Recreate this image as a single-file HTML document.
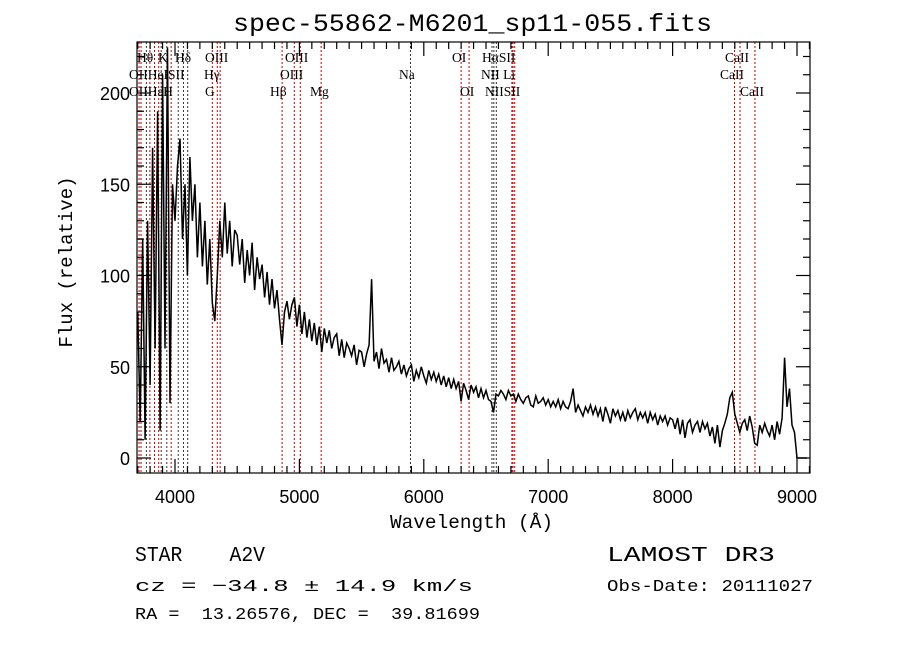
<!DOCTYPE html>
<html><head><meta charset="utf-8"><style>
body{margin:0;background:#fff;width:900px;height:649px;overflow:hidden}
svg{display:block}
text{white-space:pre}
.m{font-family:"Liberation Mono",monospace}
.s{font-family:"Liberation Sans",sans-serif}
.r{font-family:"Liberation Serif",serif;font-size:13.5px}
</style></head><body>
<svg id="c" width="900" height="649" xmlns="http://www.w3.org/2000/svg" xml:space="preserve">
<text x="233" y="31" textLength="479" lengthAdjust="spacingAndGlyphs" class="m" font-size="25">spec-55862-M6201_sp11-055.fits</text>
<g id="lines"></g>
<g id="ticks"></g>
<polyline id="spec" fill="none" stroke="#000" stroke-width="1.5"/>
<rect x="137" y="42" width="673" height="431" fill="none" stroke="#000" stroke-width="1.2"/>
<g class="r">
<text x="137" y="62">Hθ</text><text x="158" y="62">K</text><text x="175" y="62">Hδ</text><text x="205" y="62">OIII</text><text x="285" y="62">OIII</text>
<text x="129" y="79">OIIHeISII</text><text x="204" y="79">Hγ</text><text x="280" y="79">OIII</text>
<text x="129" y="96">OIIHεH</text><text x="205" y="96">G</text><text x="270" y="96">Hβ</text><text x="310" y="96">Mg</text>
<text x="452" y="62">OI</text><text x="482" y="62">HαSII</text>
<text x="399" y="79">Na</text><text x="481" y="79">NII Li</text>
<text x="460" y="96">OI</text><text x="485" y="96">NIISII</text>
<text x="725" y="62">CaII</text><text x="720" y="79">CaII</text><text x="740" y="96">CaII</text>
</g>
<text x="390" y="528" textLength="163" lengthAdjust="spacingAndGlyphs" class="m" font-size="19">Wavelength (Å)</text>
<text transform="translate(72,262) rotate(-90)" text-anchor="middle" class="m" font-size="19">Flux (relative)</text>
<text x="135" y="561" textLength="130" lengthAdjust="spacingAndGlyphs" class="m" font-size="21">STAR    A2V</text>
<text x="607" y="561" textLength="168" lengthAdjust="spacingAndGlyphs" class="m" font-size="21">LAMOST DR3</text>
<text x="135" y="591" textLength="338" lengthAdjust="spacingAndGlyphs" class="m" font-size="17">cz = −34.8 ± 14.9 km/s</text>
<text x="607" y="591" textLength="206" lengthAdjust="spacingAndGlyphs" class="m" font-size="17">Obs-Date: 20111027</text>
<text x="135" y="619" textLength="345" lengthAdjust="spacingAndGlyphs" class="m" font-size="17">RA =  13.26576, DEC =  39.81699</text>
</svg>
<script>
const waveStart = 3700;
const waveStep = 20;
const flux = [
80,20,120,10,130,40,170,60,190,15,
210,60,225,30,150,130,160,175,120,150,
100,165,130,150,110,140,105,130,95,120,
85,75,100,130,110,140,112,130,105,125,
122,106,120,96,114,100,118,92,110,98,
106,88,102,84,98,82,92,76,62,80,
86,76,84,88,72,84,68,80,66,76,
64,74,62,72,58,71,63,70,60,66,
68,56,65,55,63,60,56,62,51,59,
58,50,57,62,98,53,58,49,60,52,
54,47,55,48,50,53,46,51,45,49,
51,42,48,44,50,45,41,48,43,47,
42,46,40,45,39,44,38,43,38,42,
31,41,37,32,40,36,39,33,38,33,
37,32,31,25,35,34,37,35,32,37,
34,35,31,35,32,30,33,34,29,28,
34,30,31,33,29,32,28,31,28,32,
27,31,28,27,31,38,25,29,26,23,
28,25,29,24,28,23,27,20,28,24,
19,27,23,26,21,25,20,26,22,25,
27,21,25,22,25,19,25,21,24,18,
23,20,23,18,22,21,16,22,13,21,
11,19,21,14,18,20,14,20,16,19,
12,17,8,18,6,15,19,24,33,36,
24,19,14,19,21,15,23,17,8,7,
18,14,19,15,12,18,10,20,13,22,
55,28,38,18,14,0,0,0];
const lineWaves = [3711,3727,3770,3798,3835,3869,3889,3934,3969,4026,4068,4102,4300,4340,4363,4861,4959,5007,5175,5893,6300,6364,6548,6563,6583,6708,6717,6731,8498,8542,8662];
const lineKinds = ['r','r','k','r','r','r','k','k','r','k','k','k','r','r','r','r','r','r','r','k','r','r','k','k','k','r','r','r','r','r','r'];
const xTickLabels = [4000,5000,6000,7000,8000,9000];
const yTickLabels = [0,50,100,150,200];

const X = w => 175 + (w - 4000) * 0.1244;
const Y = f => 458 - f * 1.825;
const NS = 'http://www.w3.org/2000/svg';
const svg = document.getElementById('c');

const pts = flux.map((f,i) => X(waveStart + i*waveStep).toFixed(1) + ',' + Y(f).toFixed(1));
pts.push(X(9080).toFixed(1) + ',' + Y(0).toFixed(1));
document.getElementById('spec').setAttribute('points', pts.join(' '));

const lg = document.getElementById('lines');
lineWaves.forEach((w,i) => {
  const l = document.createElementNS(NS,'line');
  
  
  const x = X(w);
  l.setAttribute('x1', x); l.setAttribute('x2', x);
  l.setAttribute('y1', 42); l.setAttribute('y2', 473);
  l.setAttribute('stroke', lineKinds[i]==='r' ? '#c00000' : '#333');
  l.setAttribute('stroke-width', 1);
  l.setAttribute('stroke-dasharray', '2,2');
  lg.appendChild(l);
});

const tg = document.getElementById('ticks');
function seg(x1,y1,x2,y2){
  const l = document.createElementNS(NS,'line');
  
  
  l.setAttribute('x1',x1);l.setAttribute('y1',y1);l.setAttribute('x2',x2);l.setAttribute('y2',y2);
  l.setAttribute('stroke','#000');l.setAttribute('stroke-width',1.2);
  tg.appendChild(l);
}
for (let w = 3700; w <= 9100; w += 100) {
  const x = X(w), big = w % 1000 === 0, len = big ? 14 : 7;
  seg(x,473,x,473-len); seg(x,42,x,42+len);
}
for (let v = 0; v <= 220; v += 10) {
  const y = Y(v), big = v % 50 === 0, len = big ? 14 : 7;
  seg(137,y,137+len,y); seg(810,y,810-len,y);
}
xTickLabels.forEach(v => {
  const t = document.createElementNS(NS,'text');
  
  
  t.setAttribute('x', X(v)); t.setAttribute('y', 503);
  t.setAttribute('text-anchor','middle'); t.setAttribute('class','s'); t.setAttribute('font-size','18');
  t.textContent = v; svg.appendChild(t);
});
yTickLabels.forEach(v => {
  const t = document.createElementNS(NS,'text');
  
  
  t.setAttribute('x', 130); t.setAttribute('y', Y(v)+7);
  t.setAttribute('text-anchor','end'); t.setAttribute('class','s'); t.setAttribute('font-size','18');
  t.textContent = v; svg.appendChild(t);
});
</script>
</body></html>
